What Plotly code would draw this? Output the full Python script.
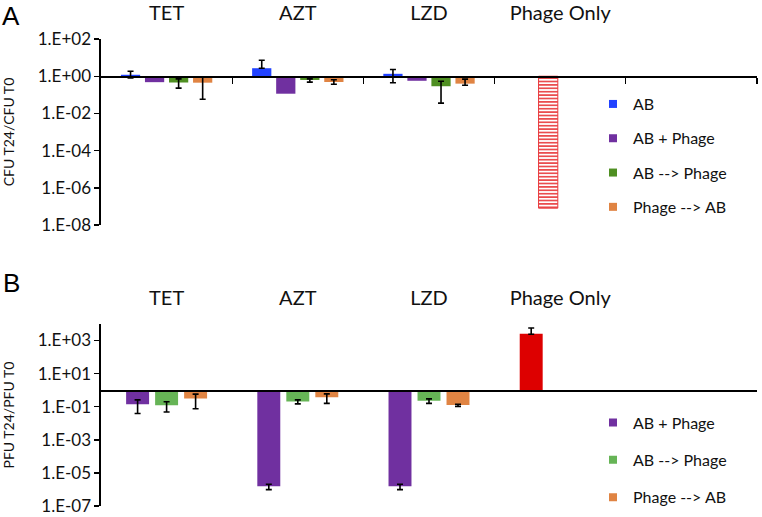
import numpy as np
import plotly.graph_objects as go

# ---------------- data ----------------
categories = ["TET", "AZT", "LZD", "Phage Only"]

# Panel A: CFU T24 / CFU T0
a_series = ["AB", "AB + Phage", "AB --> Phage", "Phage --> AB"]
a_ab = [1.2, 2.7, 1.35, None]
a_ab_hi = [1.85, 7.3, 2.3, None]
a_ab_lo = [0.8, 2.7, 0.45, None]
a_abp = [0.48, 0.115, 0.57, 8e-8]
a_abp_hi = [None, None, None, None]
a_abp_lo = [None, None, None, None]
a_ab2p = [0.46, 0.63, 0.29, None]
a_ab2p_hi = [0.72, 0.72, 0.54, None]
a_ab2p_lo = [0.23, 0.48, 0.036, None]
a_p2ab = [0.45, 0.49, 0.40, None]
a_p2ab_hi = [0.88, 0.65, 0.70, None]
a_p2ab_lo = [0.058, 0.37, 0.33, None]

# Panel B: PFU T24 / PFU T0
b_series = ["AB + Phage", "AB --> Phage", "Phage --> AB"]
b_abp = [0.14, 1.6e-6, 1.6e-6, 2600]
b_abp_hi = [0.26, 2.1e-6, 2.1e-6, 5700]
b_abp_lo = [0.039, 1.0e-6, 1.0e-6, 2400]
b_ab2p = [0.125, 0.21, 0.23, None]
b_ab2p_hi = [0.20, 0.26, 0.30, None]
b_ab2p_lo = [0.048, 0.15, 0.16, None]
b_p2ab = [0.32, 0.37, 0.13, None]
b_p2ab_hi = [0.58, 0.60, 0.14, None]
b_p2ab_lo = [0.076, 0.16, 0.105, None]

a_tickvals = [1e-8, 1e-6, 1e-4, 1e-2, 1e0, 1e2]
a_ticktext = ["1.E-08", "1.E-06", "1.E-04", "1.E-02", "1.E+00", "1.E+02"]
b_tickvals = [1e-7, 1e-5, 1e-3, 1e-1, 1e1, 1e3]
b_ticktext = ["1.E-07", "1.E-05", "1.E-03", "1.E-01", "1.E+01", "1.E+03"]

# ---------------- style ----------------
FONT = "Lato"
BLUE = "#2142FF"
PURPLE = "#7030A0"
GREEN_A = "#4F8F22"
GREEN_B = "#66B456"
ORANGE = "#E08443"
RED = "#DD0000"
HATCH = "#E8383B"


def arr(v):
    return np.array([np.nan if x is None else x for x in v], dtype=float)


def bar(name, vals, hi, lo, color, xa, ya, **kw):
    v = arr(vals)
    h = arr(hi)
    l = arr(lo)
    return go.Bar(
        x=categories, y=v - 1.0, base=1.0, name=name, xaxis=xa, yaxis=ya,
        marker=dict(color=color, line=dict(width=0)),
        error_y=dict(type="data", symmetric=False, array=h - v, arrayminus=v - l,
                     color="black", thickness=1.6, width=3),
        showlegend=False, hoverinfo="skip", **kw)


fig = go.Figure()

# Panel A bars
fig.add_trace(bar(a_series[0], a_ab, a_ab_hi, a_ab_lo, BLUE, "x", "y"))
tr = bar(a_series[1], a_abp, a_abp_hi, a_abp_lo, PURPLE, "x", "y")
tr.marker = dict(color=[PURPLE, PURPLE, PURPLE, HATCH],
                 line=dict(color=[PURPLE, PURPLE, PURPLE, HATCH], width=[0, 0, 0, 1]),
                 pattern=dict(shape=["", "", "", "-"], fgcolor=[HATCH] * 4,
                              bgcolor=["white"] * 4, size=3.4, solidity=0.45,
                              fillmode="replace"))
fig.add_trace(tr)
fig.add_trace(bar(a_series[2], a_ab2p, a_ab2p_hi, a_ab2p_lo, GREEN_A, "x", "y"))
fig.add_trace(bar(a_series[3], a_p2ab, a_p2ab_hi, a_p2ab_lo, ORANGE, "x", "y"))

# Panel B bars (explicit narrower slots)
bw = 0.175
pitch = 0.221
b_colors = [[PURPLE, PURPLE, PURPLE, RED], GREEN_B, ORANGE]
b_data = [(b_abp, b_abp_hi, b_abp_lo), (b_ab2p, b_ab2p_hi, b_ab2p_lo), (b_p2ab, b_p2ab_hi, b_p2ab_lo)]
for k, (name, (vv, hh, ll), col) in enumerate(zip(b_series, b_data, b_colors)):
    fig.add_trace(bar(name, vv, hh, ll, col, "x2", "y2", width=bw, offset=(k - 1) * pitch - bw / 2))

# legend entries (small squares); they live on the baseline axes so those get drawn
for name, col in zip(a_series, [BLUE, PURPLE, GREEN_A, ORANGE]):
    fig.add_trace(go.Scatter(x=[None], y=[None], mode="markers", name=name, xaxis="x3", yaxis="y",
                             marker=dict(symbol="square", size=8, color=col),
                             legend="legend", legendgroup="a" + name))
for name, col in zip(b_series, [PURPLE, GREEN_B, ORANGE]):
    fig.add_trace(go.Scatter(x=[None], y=[None], mode="markers", name=name, xaxis="x4", yaxis="y2",
                             marker=dict(symbol="square", size=8, color=col),
                             legend="legend2", legendgroup="b" + name))

A_DOM = [0.605, 1.0]
B_DOM = [0.008, 0.395]
A_RANGE = [-8.003, 2.003]
B_RANGE = [-7.003, 4]
posA = A_DOM[0] + (0 - A_RANGE[0]) / (A_RANGE[1] - A_RANGE[0]) * (A_DOM[1] - A_DOM[0])
posB = B_DOM[0] + (0 - B_RANGE[0]) / (B_RANGE[1] - B_RANGE[0]) * (B_DOM[1] - B_DOM[0])

cat_axis = dict(type="category", categoryorder="array", categoryarray=categories,
                range=[-0.5, 4.5], side="top", showline=False, ticks="", showgrid=False,
                zeroline=False, ticklabelstandoff=14, automargin=False,
                tickfont=dict(family=FONT, size=20, color="#111"))
yax = dict(type="log", showline=True, linecolor="black", linewidth=1.6, ticks="outside",
           ticklen=5, tickwidth=1.4, tickcolor="black", showgrid=False, zeroline=False,
           automargin=False, ticklabeloverflow="allow",
           tickfont=dict(family=FONT, size=17, color="#111"))
base_axis = dict(anchor="free", range=[-0.5, 4.5], showline=True, linecolor="black",
                 linewidth=1.6, showticklabels=False, showgrid=False, zeroline=False,
                 automargin=False)

fig.update_layout(
    width=762, height=517,
    margin=dict(l=101, r=5, t=39, b=7, autoexpand=False),
    paper_bgcolor="white", plot_bgcolor="white",
    barmode="group", bargap=0.267, bargroupgap=0.2,
    font=dict(family=FONT, color="#111"),
    xaxis=dict(cat_axis, anchor="y"),
    yaxis=dict(yax, domain=A_DOM, range=A_RANGE, tickvals=a_tickvals, ticktext=a_ticktext,
               anchor="x",
               title=dict(text="CFU T24/CFU T0", font=dict(family=FONT, size=14), standoff=24)),
    xaxis2=dict(cat_axis, anchor="y2"),
    yaxis2=dict(yax, domain=B_DOM, range=B_RANGE, tickvals=b_tickvals, ticktext=b_ticktext,
                anchor="x2",
                title=dict(text="PFU T24/PFU T0", font=dict(family=FONT, size=14), standoff=24)),
    xaxis3=dict(base_axis, overlaying="x", position=posA, ticks="outside", ticklen=6,
                tickwidth=1.4, tickcolor="black", tickvals=[0.5, 1.5, 2.5, 3.5, 4.5]),
    xaxis4=dict(base_axis, overlaying="x2", position=posB, ticks=""),
    legend=dict(x=0.750, y=0.898, xanchor="left", yanchor="top", bgcolor="rgba(0,0,0,0)",
                font=dict(family=FONT, size=16, color="#111"), tracegroupgap=10.5,
                itemwidth=30),
    legend2=dict(x=0.750, y=0.2215, xanchor="left", yanchor="top", bgcolor="rgba(0,0,0,0)",
                 font=dict(family=FONT, size=16, color="#111"), tracegroupgap=13.5,
                 itemwidth=30),
    annotations=[
        dict(text="A", x=-0.137, y=(510 - 16) / 471, xref="paper", yref="paper",
             xanchor="center", yanchor="middle", showarrow=False,
             font=dict(family="Liberation Sans", size=26, color="black")),
        dict(text="B", x=-0.137, y=(510 - 283) / 471, xref="paper", yref="paper",
             xanchor="center", yanchor="middle", showarrow=False,
             font=dict(family="Liberation Sans", size=26, color="black")),
    ],
)

fig.write_html("out.html", config={"displayModeBar": False, "staticPlot": True},
               post_script="document.body.style.margin='0';document.body.style.overflow='hidden';")
